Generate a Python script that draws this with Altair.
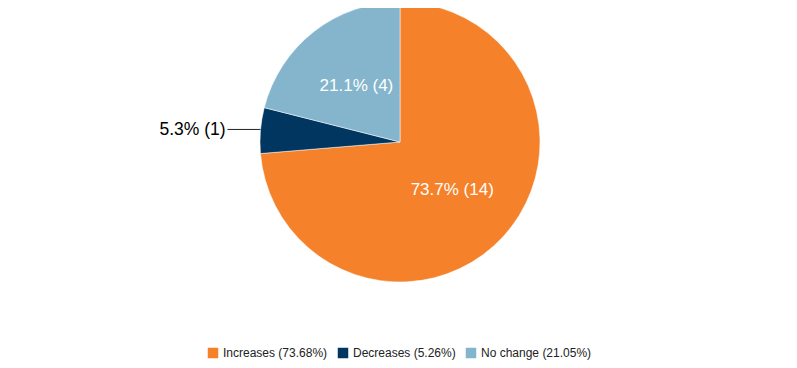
import altair as alt
import pandas as pd

categories = ["Increases (73.68%)", "Decreases (5.26%)", "No change (21.05%)"]
counts = [14, 1, 4]
slice_labels = ["73.7% (14)", "5.3% (1)", "21.1% (4)"]
inside = [True, False, True]
colors = ["#F5812A", "#00365F", "#84B5CC"]

CX, CY = 392, 134

df = pd.DataFrame({
    "category": categories,
    "count": counts,
    "label": slice_labels,
    "inside": inside,
    "idx": list(range(len(categories))),
})

base = alt.Chart(df)
theta = alt.Theta("count:Q", stack=True)
order = alt.Order("idx:O", sort="ascending")
color = alt.Color(
    "category:N",
    scale=alt.Scale(domain=categories, range=colors),
    sort=categories,
    legend=alt.Legend(
        title=None,
        orient="none",
        direction="horizontal",
        legendX=199,
        legendY=339,
        symbolType="square",
        symbolSize=110,
        symbolStrokeWidth=0,
        labelFont="Liberation Sans",
        labelFontSize=12,
        labelColor="#222222",
        columnPadding=9,
        labelLimit=300,
    ),
)

pie = base.mark_arc(outerRadius=140, stroke="white", strokeWidth=0.5).encode(
    theta=theta, color=color, order=order,
    x=alt.value(CX), y=alt.value(CY),
)

text_in = base.mark_text(
    radius=71, font="Liberation Sans", fontSize=17, color="white"
).encode(
    theta=theta,
    text=alt.condition("datum.inside", alt.Text("label:N"), alt.value("")),
    order=order,
    x=alt.value(CX), y=alt.value(CY),
)

text_out = base.mark_text(
    radius=176, font="Liberation Sans", fontSize=17.5, color="#000000",
    align="right", baseline="middle", dy=3, dx=1
).encode(
    theta=theta,
    text=alt.condition("datum.inside", alt.value(""), alt.Text("label:N")),
    order=order,
    x=alt.value(CX), y=alt.value(CY),
)

leader = base.transform_window(
    cum="sum(count)", sort=[alt.SortField("idx")], frame=[None, 0]
).transform_joinaggregate(total="sum(count)").transform_calculate(
    a="(datum.cum - datum.count/2) / datum.total * 2 * PI",
).transform_calculate(
    px=f"{CX} + 140*sin(datum.a)",
    py=f"{CY} - 140*cos(datum.a) - 1",
    px2=f"{CX} + 140*sin(datum.a) - 33",
).transform_filter("!datum.inside").mark_rule(color="#222222", strokeWidth=1).encode(
    x=alt.X("px:Q", scale=None),
    x2="px2:Q",
    y=alt.Y("py:Q", scale=None),
)

chart = alt.layer(pie, text_in, text_out, leader).properties(
    width=781, height=352, padding=0,
    autosize=alt.AutoSizeParams(type="none"),
).configure_view(stroke=None)

chart.save("out.html", embed_options={"renderer": "svg", "actions": False})
